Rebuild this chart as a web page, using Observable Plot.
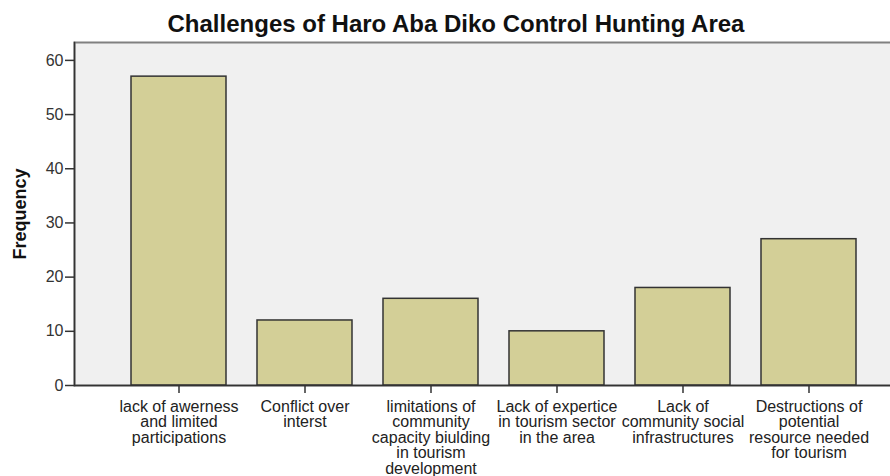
<!DOCTYPE html>
<html>
<head>
<meta charset="utf-8">
<script src="https://cdn.jsdelivr.net/npm/d3@7"></script>
<script src="https://cdn.jsdelivr.net/npm/@observablehq/plot@0.6"></script>
<style>
  html, body { margin: 0; padding: 0; background: #fff; overflow: hidden; width: 890px; height: 476px; }
  #title { height: 40px; position: relative; width: 912px; }
  #title span { position: absolute; left: 0; right: 0; top: 10px; font-family: "Liberation Sans", Arial, sans-serif; font-weight: bold; font-size: 24px; line-height: 28px; color: #111; text-align: center; white-space: nowrap; }
  #chart { width: 895px; }
  #chart svg { display: block; max-width: none !important; }
</style>
</head>
<body>
<div id="title"><span>Challenges of Haro Aba Diko Control Hunting Area</span></div>
<div id="chart"></div>
<script>
const categories = [
  "lack of awerness\nand limited\nparticipations",
  "Conflict over\ninterst",
  "limitations of\ncommunity\ncapacity biulding\nin tourism\ndevelopment",
  "Lack of expertice\nin tourism sector\nin the area",
  "Lack of\ncommunity social\ninfrastructures",
  "Destructions of\npotential\nresource needed\nfor tourism"
];
const frequencies = [57, 12, 16, 10, 18, 27];
const yTicks = [0, 10, 20, 30, 40, 50, 60];

const data = categories.map((c, i) => ({category: c, frequency: frequencies[i]}));

const chart = Plot.plot({
  width: 895,
  height: 436,
  marginTop: 2,
  marginBottom: 91,
  marginLeft: 74,
  marginRight: 0,
  style: { fontFamily: "Liberation Sans, Arial, sans-serif", background: "transparent", overflow: "visible", maxWidth: "none" },
  x: {
    domain: categories,
    paddingInner: 0.246,
    paddingOuter: 0,
    insetLeft: 57,
    insetRight: 39,
    round: false,
    label: null
  },
  y: {
    domain: [0, 63.3],
    ticks: yTicks,
    label: null
  },
  marks: [
    Plot.frame({fill: "#f0f0f0", stroke: "#808080", strokeWidth: 2}),
    Plot.barY(data, {x: "category", y: "frequency", fill: "#d3cf97", stroke: "#333", strokeWidth: 1.5}),
    Plot.frame({anchor: "left", stroke: "#333", strokeWidth: 1.5}),
    Plot.ruleY([0], {stroke: "#333", strokeWidth: 1.5}),
    Plot.axisY({ticks: yTicks, tickSize: 9, tickPadding: 2, fontSize: 16, color: "#333", stroke: "#333", strokeWidth: 1.5, label: null}),
    Plot.axisX({tickSize: 8, tickPadding: 7, fontSize: 16, lineHeight: 0.97, color: "#222", stroke: "#333", strokeWidth: 1.5, label: null, textOverflow: null}),
    Plot.text(["Frequency"], {frameAnchor: "left", dx: -54, rotate: -90, textAnchor: "middle", fontSize: 18, fontWeight: "bold", fill: "#111"})
  ]
});
document.getElementById("chart").appendChild(chart);
</script>
</body>
</html>
